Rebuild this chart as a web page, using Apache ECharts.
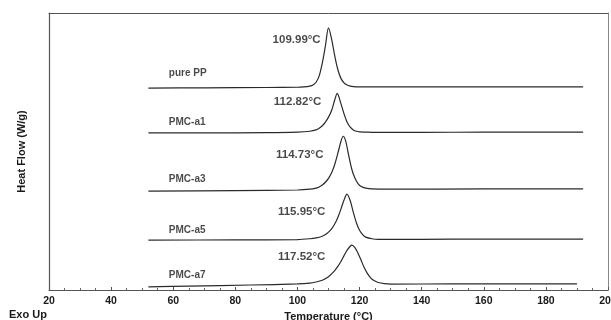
<!DOCTYPE html>
<html><head><meta charset="utf-8">
<script src="https://cdn.jsdelivr.net/npm/echarts@6/dist/echarts.min.js"></script>
<style>html,body{margin:0;padding:0;background:#fff}#c{width:611px;height:320px}</style>
</head><body><div id="c"></div>
<script>
// X tick labels (°C)
const xTicks = [20, 40, 60, 80, 100, 120, 140, 160, 180, 200];
const seriesNames = ['pure PP', 'PMC-a1', 'PMC-a3', 'PMC-a5', 'PMC-a7'];
const peakTemps = ['109.99°C', '112.82°C', '114.73°C', '115.95°C', '117.52°C'];

// Curves (temperature °C, offset heat flow, arbitrary units)
const tPP = [52, 70, 90, 100, 102, 104, 105, 106, 107, 108, 109, 110, 111, 112, 113, 114, 115, 116, 117, 118, 120, 125, 140, 160, 180, 192];
const vPP = [72.9, 73.0, 73.1, 73.2, 73.3, 73.6, 74.0, 75.0, 77.3, 81.9, 88.1, 94.6, 90.6, 84.6, 79.6, 76.4, 74.8, 74.0, 73.6, 73.4, 73.3, 73.3, 73.3, 73.3, 73.3, 73.3];

const tA1 = [52, 70, 90, 100, 104, 106, 107, 108, 109, 110, 111, 112, 112.8, 114, 115, 116, 117, 118, 119, 120, 122, 125, 140, 160, 180, 192];
const vA1 = [56.7, 56.7, 56.8, 57.0, 57.3, 57.8, 58.4, 59.3, 60.6, 62.4, 64.8, 68.6, 71.0, 67.3, 63.6, 60.6, 58.8, 57.8, 57.3, 57.1, 57.0, 56.9, 56.9, 57.0, 57.0, 57.0];

const tA3 = [52, 80, 100, 104, 106, 107, 108, 109, 110, 111, 112, 113, 114, 114.73, 115.5, 116.5, 117.5, 118.5, 119.5, 120.5, 122, 124, 130, 160, 192];
const vA3 = [35.7, 35.9, 36.1, 36.4, 36.8, 37.2, 37.9, 38.9, 40.3, 42.3, 45.3, 49.3, 53.6, 55.5, 53.9, 48.6, 43.6, 40.4, 38.4, 37.4, 36.8, 36.5, 36.4, 36.5, 36.5];

const tA5 = [52, 80, 100, 104, 106, 108, 109, 110, 111, 112, 113, 114, 115, 115.95, 117, 118, 119, 120, 121, 122, 124, 126, 140, 160, 192];
const vA5 = [18.0, 18.1, 18.2, 18.5, 18.8, 19.4, 20.0, 20.9, 22.1, 23.8, 26.2, 29.2, 32.5, 34.6, 32.2, 28.0, 24.2, 21.6, 20.0, 19.1, 18.5, 18.3, 18.3, 18.4, 18.4];

const tA7 = [52, 65, 85, 100, 104, 106, 108, 109, 110, 111, 112, 113, 114, 115, 116, 117, 117.52, 118.5, 119.5, 120.5, 121.5, 122.5, 123.5, 124.5, 126, 128, 130, 150, 170, 190];
const vA7 = [1.1, 1.4, 1.8, 2.2, 2.5, 2.9, 3.5, 4.1, 4.8, 5.8, 7.0, 8.5, 10.3, 12.4, 14.4, 15.8, 16.2, 15.3, 13.3, 10.7, 8.1, 6.0, 4.5, 3.5, 2.7, 2.3, 2.15, 2.2, 2.2, 2.2];

// Label anchor positions (data coords, left-aligned)
const nameLabelT = [58.6, 58.6, 58.6, 58.6, 58.6];
const nameLabelV = [78.3, 60.6, 40.1, 21.7, 5.4];
const peakLabelT = [92.0, 92.4, 93.1, 93.7, 93.7];
const peakLabelV = [90.3, 67.9, 48.7, 28.2, 11.9];

const curvesT = [tPP, tA1, tA3, tA5, tA7];
const curvesV = [vPP, vA1, vA3, vA5, vA7];

const chart = echarts.init(document.getElementById('c'), null, {renderer: 'canvas'});
const font = '"Liberation Sans", Arial, sans-serif';
const txt = '#1a1a1a';
const series = curvesT.map((ts, i) => ({
  type: 'line', name: seriesNames[i], showSymbol: false, smooth: 0.3,
  lineStyle: {color: '#2a2a2a', width: 1.2}, silent: true,
  data: ts.map((t, j) => [t, curvesV[i][j]])
}));
const nameData = seriesNames.map((n, i) => ({value: [nameLabelT[i], nameLabelV[i]], text: n}));
const peakData = peakTemps.map((n, i) => ({value: [peakLabelT[i], peakLabelV[i]], text: n}));
series.push({
  type: 'scatter', symbolSize: 0, silent: true, data: nameData,
  label: {show: true, position: 'right', distance: 0, formatter: p => p.data.text,
    color: txt, fontFamily: font, fontSize: 10, fontWeight: 'bold'}
});
series.push({
  type: 'scatter', symbolSize: 0, silent: true, data: peakData,
  label: {show: true, position: 'right', distance: 0, formatter: p => p.data.text,
    color: txt, fontFamily: font, fontSize: 11.5, fontWeight: 'bold'}
});

const lineCol = '#555';
chart.setOption({
  animation: false,
  backgroundColor: '#fff',
  grid: {left: 49, right: 3, top: 13, bottom: 30, containLabel: false, outerBoundsMode: 'none'},
  xAxis: [{
    type: 'value', min: xTicks[0], max: xTicks[xTicks.length - 1], interval: 20,
    name: 'Temperature (°C)', nameLocation: 'middle', nameGap: 19,
    nameTextStyle: {fontFamily: font, fontSize: 11, fontWeight: 'bold', color: txt},
    axisLine: {onZero: false, lineStyle: {color: lineCol, width: 1.2}},
    axisTick: {show: true, inside: true, length: 3, lineStyle: {color: lineCol}},
    minorTick: {show: true, splitNumber: 4, length: 2, lineStyle: {color: '#666'}},
    axisLabel: {fontFamily: font, fontSize: 10.5, fontWeight: 'bold', color: txt, margin: 6},
    splitLine: {show: false}
  }, {
    type: 'value', position: 'top', min: xTicks[0], max: xTicks[xTicks.length - 1],
    axisLine: {show: true, onZero: false, lineStyle: {color: lineCol, width: 1}},
    axisTick: {show: false}, axisLabel: {show: false}, splitLine: {show: false}
  }],
  yAxis: [{
    type: 'value', min: 0, max: 100,
    name: 'Heat Flow (W/g)', nameLocation: 'middle', nameGap: 22, nameRotate: 90,
    nameTextStyle: {fontFamily: font, fontSize: 11, fontWeight: 'bold', color: txt},
    axisLine: {show: true, onZero: false, lineStyle: {color: lineCol, width: 1.2}},
    axisTick: {show: false}, axisLabel: {show: false}, splitLine: {show: false}
  }, {
    type: 'value', position: 'right', min: 0, max: 100,
    axisLine: {show: true, onZero: false, lineStyle: {color: '#888', width: 1}},
    axisTick: {show: false}, axisLabel: {show: false}, splitLine: {show: false}
  }],
  graphic: [{type: 'text', left: 9, top: 309,
    style: {text: 'Exo Up', font: 'bold 11px ' + font, fill: txt}}],
  series: series
});
</script></body></html>
